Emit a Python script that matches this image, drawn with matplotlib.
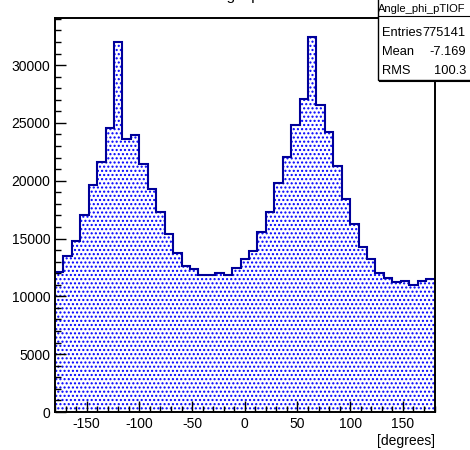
import matplotlib.pyplot as plt
import numpy as np
from matplotlib.patches import Rectangle
from matplotlib.lines import Line2D
from matplotlib.ticker import MultipleLocator

# 45 bins of 8 degrees from -180 to 180
bin_edges = np.arange(-180, 181, 8)
bin_counts = [
    12100, 13500, 14800, 17030, 19620, 21640, 24550, 32020, 23600, 23950,
    21410, 19250, 17290, 15370, 13715, 12590, 12330, 11840, 11840, 12040,
    11840, 12420, 13200, 13890, 15560, 17290, 19770, 22070, 24810, 27060,
    32450, 26540, 24230, 21270, 18410, 16220, 14290, 13220, 11990, 11550,
    11260, 11320, 10970, 11350, 11470,
]
x_ticks = [-150, -100, -50, 0, 50, 100, 150]
y_ticks = [0, 5000, 10000, 15000, 20000, 25000, 30000]

hist_name = "Angle_phi_pTIOF"
stats_labels = ["Entries", "Mean", "RMS"]
stats_values = ["775141", "-7.169", "100.3"]

plt.rcParams["font.family"] = ["Liberation Sans", "DejaVu Sans"]
plt.rcParams["hatch.linewidth"] = 1.0
plt.rcParams["axes.unicode_minus"] = False

W, H = 470, 450
fig = plt.figure(figsize=(W / 100, H / 100), dpi=100)


def fx(px):
    return px / W


def fy(py):
    return 1 - py / H


ax = fig.add_axes([fx(55), fy(412), fx(434.5) - fx(55), fy(18) - fy(412)])

# dotted fill, then the dark outline on top
ax.stairs(bin_counts, bin_edges, fill=True, facecolor="white",
          edgecolor="#0000ff", linewidth=0, hatch="....", zorder=1)
ax.stairs(bin_counts, bin_edges, baseline=None, color="#00009a",
          linewidth=1.5, zorder=2)

ax.set_xlim(-180, 180)
ax.set_ylim(0, 1.05 * max(bin_counts))
ax.set_xticks(x_ticks)
ax.set_yticks(y_ticks)
ax.xaxis.set_minor_locator(MultipleLocator(10))
ax.yaxis.set_minor_locator(MultipleLocator(1000))
ax.tick_params(which="both", direction="in", top=False, right=False,
               labelsize=10, width=1, color="black")
ax.tick_params(which="major", length=8)
ax.tick_params(which="minor", length=4.5)
for sp in ax.spines.values():
    sp.set_linewidth(1.4)

fig.text(fx(434.5), fy(441), "[degrees]", ha="right", va="center", fontsize=10)

# title, mostly above the canvas (cut off as in the original)
fig.text(fx(240), 1.0, "Angle phi", ha="center", va="baseline", fontsize=11)

# stats box
box_l, box_r, box_t, box_b, sep = 377.5, 471, -2, 79.5, 15.7
fig.add_artist(Rectangle((fx(box_l), fy(box_b)), fx(box_r) - fx(box_l),
                         fy(box_t) - fy(box_b), transform=fig.transFigure,
                         facecolor="white", edgecolor="black", linewidth=1.0,
                         zorder=5))
fig.add_artist(Line2D([fx(box_l), fx(box_r)], [fy(sep), fy(sep)],
                      transform=fig.transFigure, color="black", linewidth=0.8,
                      zorder=6))
fig.add_artist(Line2D([fx(box_l + 1), fx(box_r)], [fy(box_b + 1), fy(box_b + 1)],
                      transform=fig.transFigure, color="black", linewidth=0.8,
                      zorder=6))
fig.text(fx(421.5), fy(8.5), hist_name, ha="center", va="center", fontsize=8,
         zorder=7)
for i, (lab, val) in enumerate(zip(stats_labels, stats_values)):
    y = 33 + 19 * i
    fig.text(fx(382), fy(y), lab, ha="left", va="center", fontsize=9.3, zorder=7)
    fig.text(fx(466), fy(y), val, ha="right", va="center", fontsize=9.3, zorder=7)

fig.savefig("out.png", dpi=100)
